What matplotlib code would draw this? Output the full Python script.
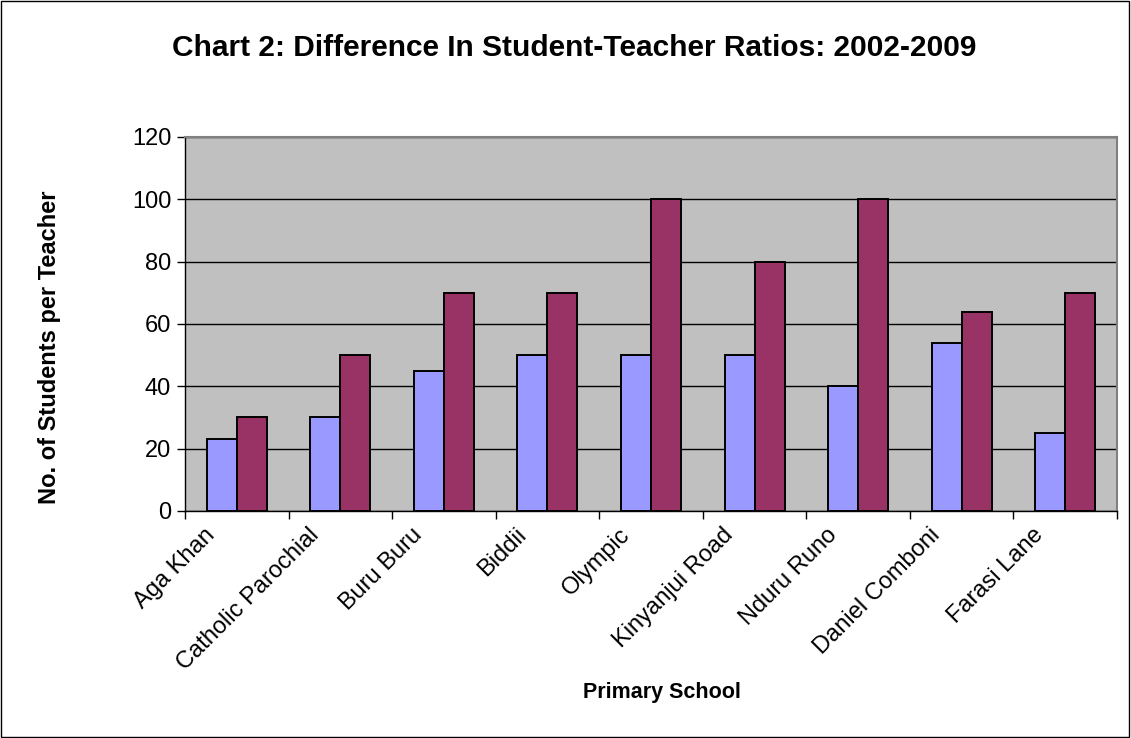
import numpy as np
import matplotlib.pyplot as plt
from matplotlib.patches import Rectangle

plt.rcParams['font.family'] = ['Liberation Sans', 'DejaVu Sans']

# data
schools = ["Aga Khan", "Catholic Parochial", "Buru Buru", "Biddii", "Olympic",
           "Kinyanjui Road", "Nduru Runo", "Daniel Comboni", "Farasi Lane"]
ratio_2002 = [23, 30, 45, 50, 50, 50, 40, 54, 25]
ratio_2009 = [30, 50, 70, 70, 100, 80, 100, 64, 70]

fig = plt.figure(figsize=(11.31, 7.38), dpi=100)
fig.patches.append(Rectangle((0.001, 0.001), 0.997, 0.997, transform=fig.transFigure,
                             fill=False, edgecolor="black", linewidth=1))

ax = fig.add_axes([0.1636, 0.3076, 0.824, 0.5068])
ax.set_facecolor("#C0C0C0")

x = np.arange(len(schools))
w = 0.29
ax.bar(x - w / 2, ratio_2002, w, color="#9999FF", edgecolor="black", linewidth=1.4, zorder=3)
ax.bar(x + w / 2, ratio_2009, w, color="#993366", edgecolor="black", linewidth=1.4, zorder=3)

ax.set_ylim(0, 120)
ax.set_yticks(range(0, 121, 20))
ax.set_xlim(-0.5, len(schools) - 0.5)
ax.yaxis.grid(True, color="black", linewidth=1)
ax.set_axisbelow(True)

# category boundaries as major ticks, names on minor ticks (nudged left like Excel)
ax.set_xticks(np.arange(len(schools) + 1) - 0.5)
ax.set_xticklabels([])
ax.set_xticks(x - 0.24, minor=True)
ax.set_xticklabels(schools, minor=True, rotation=45, ha="right", va="center",
                   rotation_mode="anchor", fontsize=17)
ax.tick_params(axis="x", which="minor", length=0, pad=15)
ax.tick_params(axis="x", which="major", length=6, direction="out", width=1)
ax.tick_params(axis="y", length=6, width=1, labelsize=17, pad=4)

for s in ["top", "right"]:
    ax.spines[s].set_color("#808080")
    ax.spines[s].set_linewidth(1.5)
ax.spines["left"].set_linewidth(1)
ax.spines["bottom"].set_linewidth(1)

fig.text(0.044, 0.529, "No. of Students per Teacher", fontsize=17, fontweight="bold",
         rotation=90, ha="center", va="center")
fig.text(0.585, 0.061, "Primary School", fontsize=15.5, fontweight="bold", ha="center", va="center")
fig.text(0.508, 0.935, "Chart 2: Difference In Student-Teacher Ratios: 2002-2009",
         fontsize=21.5, fontweight="bold", ha="center", va="center")

fig.savefig("out.png", dpi=100)
